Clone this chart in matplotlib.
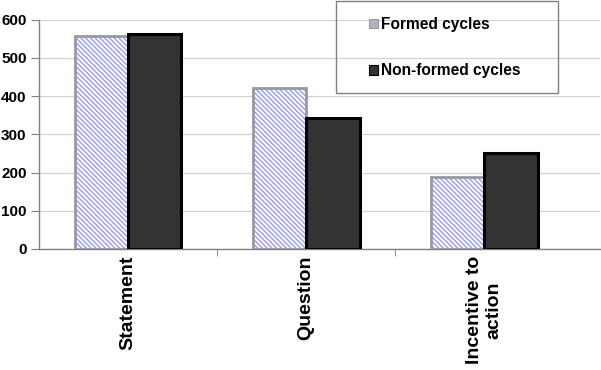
import matplotlib.pyplot as plt
import numpy as np
from matplotlib.patches import Patch, Rectangle

categories = ["Statement", "Question", "Incentive to\naction"]
formed = [558, 420, 187]
non_formed = [562, 342, 250]
y_ticks = [0, 100, 200, 300, 400, 500, 600]

plt.rcParams["font.family"] = ["Liberation Sans", "DejaVu Sans"]
plt.rcParams["font.weight"] = "bold"
plt.rcParams["hatch.linewidth"] = 1.0

fig = plt.figure(figsize=(6.01, 3.70), dpi=100)
ax = fig.add_axes([39 / 601, 121 / 370, 561 / 601, 229.5 / 370])

x = np.arange(len(categories))
w = 0.3

# formed cycles: white with blue stripes, grey outline
ax.bar(x - w / 2, formed, w, color="white", edgecolor="#9999ff", hatch="\\" * 7, linewidth=0, zorder=3)
ax.bar(x - w / 2, formed, w, color="none", edgecolor="#999999", linewidth=2.0, zorder=4)
# non-formed cycles: dark fill, black outline
ax.bar(x + w / 2, non_formed, w, color="#333333", edgecolor="black", linewidth=2.2, zorder=4)

ax.set_xlim(-0.5, 2.65)
ax.set_ylim(0, 600)
ax.set_yticks(y_ticks)
ax.yaxis.grid(True, color="#d0d0d0", linewidth=0.8, zorder=0)
ax.set_axisbelow(True)

ax.set_xticks(x)
ax.set_xticklabels(categories, rotation=90, fontsize=14, fontweight="bold",
                   rotation_mode="anchor", ha="right", va="center", multialignment="center")
ax.tick_params(axis="x", which="major", length=0, pad=5)
ax.set_xticks([0.5, 1.5], minor=True)
ax.tick_params(axis="x", which="minor", length=5, color="#808080", direction="out")
ax.tick_params(axis="y", length=6, color="#808080", labelsize=11, pad=3)
for lbl in ax.get_yticklabels():
    lbl.set_fontweight("bold")

for s in ["top", "right"]:
    ax.spines[s].set_visible(False)
for s in ["left", "bottom"]:
    ax.spines[s].set_color("#808080")
    ax.spines[s].set_linewidth(1.0)

handles = [
    Patch(facecolor="#b0b0c8", edgecolor="#999999", linewidth=0.8, label="Formed cycles"),
    Patch(facecolor="#333333", edgecolor="black", linewidth=0.8, label="Non-formed cycles"),
]
fig.legend(handles=handles, loc="upper left", bbox_to_anchor=(369 / 601, 1 - 17 / 370),
           frameon=False, borderpad=0, borderaxespad=0,
           handlelength=0.6, handleheight=0.6, handletextpad=0.15, labelspacing=2.0,
           prop={"weight": "bold", "size": 11.2})
fig.patches.append(Rectangle((336 / 601, 1 - 93 / 370), 222 / 601, 92.5 / 370,
                             transform=fig.transFigure, fill=False,
                             edgecolor="#808080", linewidth=1.0))

fig.savefig("out.png", dpi=100)
